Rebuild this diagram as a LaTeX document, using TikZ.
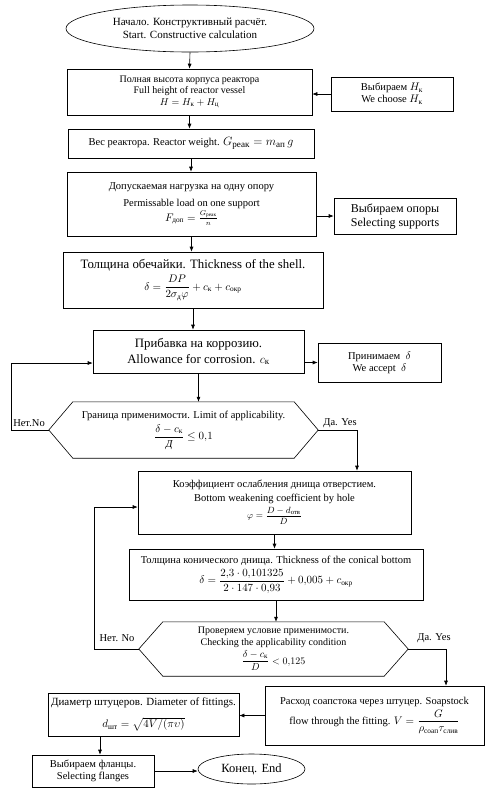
\documentclass[tikz,border=0pt]{standalone}
\usepackage{amsmath}
\usepackage{fontspec}
\setmainfont{Liberation Serif}
\usetikzlibrary{arrows.meta,shapes.geometric}
\newcommand{\tx}[1]{\text{#1}}
\begin{document}
\begin{tikzpicture}[x=1pt,y=-1pt,
  box/.style={draw, line width=0.6pt, inner sep=1pt, align=center},
  oval/.style={draw, ellipse, line width=0.6pt, inner sep=0pt, align=center},
  arr/.style={line width=0.6pt, -{Latex[length=5pt,width=4pt]}},
  ln/.style={line width=0.6pt},
  fs/.style={font=\fontsize{10.5}{12}\selectfont},
  fsm/.style={font=\fontsize{10}{11.5}\selectfont},
  fm/.style={font=\fontsize{11}{13}\selectfont},
  fl/.style={font=\fontsize{12.8}{15}\selectfont},
  lbl/.style={font=\fontsize{10.5}{12}\selectfont, inner sep=0pt}]
\useasboundingbox (0,0) rectangle (487,793);

\node[oval, fm, minimum width=248pt, minimum height=47pt] (start) at (190,28.5)
  {Начало. Конструктивный расчёт.\\Start. Constructive calculation};

\node[box, fsm, minimum width=245pt, minimum height=46pt] (b1) at (189.5,92)
  {Полная высота корпуса реактора\\Full height of reactor vessel\\$H = H_{\tx{к}} + H_{\tx{ц}}$};

\node[box, fs, minimum width=122pt, minimum height=34pt] (hk) at (392,94)
  {Выбираем $H_{\tx{к}}$\\We choose $H_{\tx{к}}$};

\node[box, fs, minimum width=246pt, minimum height=29pt] (b2) at (191,143.5)
  {Вес реактора. Reactor weight. {\fontsize{13}{15}\selectfont$G_{\tx{реак}} = m_{\tx{ап}}\,g$}};

\node[box, fs, minimum width=249pt, minimum height=64pt] (b3) at (191.5,204)
  {Допускаемая нагрузка на одну опору\\[5pt]Permissable load on one support\\[1pt]$F_{\tx{доп}} = \frac{G_{\tx{реак}}}{n}$};

\node[box, font=\fontsize{12}{14}\selectfont, minimum width=122pt, minimum height=36pt] (sup) at (395,216)
  {Выбираем опоры\\Selecting supports};

\node[box, fl, minimum width=260pt, minimum height=56pt] (b4) at (193,280)
  {Толщина обечайки. Thickness of the shell.\\[3pt]{\fontsize{10.5}{12}\selectfont$\delta = \dfrac{DP}{2\sigma_{\tx{д}}\varphi} + c_{\tx{к}} + c_{\tx{окр}}$}};

\node[box, fl, minimum width=211pt, minimum height=43pt] (b5) at (198.5,351.5)
  {Прибавка на коррозию.\\[1pt]Allowance for corrosion. $c_{\tx{к}}$};

\node[box, fs, minimum width=123pt, minimum height=39pt] (acc) at (379.5,362.5)
  {Принимаем \ $\delta$\\We accept \ $\delta$};

% hexagon 1
\node[fs, align=center, minimum width=269pt, minimum height=56pt, inner sep=0pt] (h1) at (183.5,430)
  {Граница применимости. Limit of applicability.\\[3pt]$\dfrac{\delta - c_{\tx{к}}}{\tx{\itshape Д}} \le 0{,}1$};
\draw[ln] ([xshift=24pt]h1.north west) -- ([xshift=-24pt]h1.north east) -- (h1.east)
  -- ([xshift=-24pt]h1.south east) -- ([xshift=24pt]h1.south west) -- (h1.west) -- cycle;

\node[box, fs, minimum width=273pt, minimum height=63pt] (b6) at (274.5,502.5)
  {Коэффициент ослабления днища отверстием.\\[2pt]Bottom weakening coefficient by hole\\[2pt]{\fontsize{9.5}{11}\selectfont$\varphi = \dfrac{D - d_{\tx{отв}}}{D}$}};

\node[box, fs, minimum width=294pt, minimum height=51pt] (b7) at (276,574.5)
  {Толщина конического днища. Thickness of the conical bottom\\[3pt]$\delta = \dfrac{2{,}3\cdot 0{,}101325}{2\cdot 147\cdot 0{,}93} + 0{,}005 + c_{\tx{окр}}$};

% hexagon 2
\node[fsm, align=center, minimum width=269pt, minimum height=54pt, inner sep=0pt] (h2) at (273.5,649)
  {Проверяем условие применимости.\\Checking the applicability condition\\[2pt]$\dfrac{\delta - c_{\tx{к}}}{D} < 0{,}125$};
\draw[ln] ([xshift=24pt]h2.north west) -- ([xshift=-24pt]h2.north east) -- (h2.east)
  -- ([xshift=-24pt]h2.south east) -- ([xshift=24pt]h2.south west) -- (h2.west) -- cycle;

\node[box, fs, minimum width=219pt, minimum height=59pt] (b8) at (374.5,715.5)
  {Расход соапстока через штуцер. Soapstock\\[2pt]flow through the fitting. $V = \dfrac{G}{\rho_{\tx{соап}}\tau_{\tx{слив}}}$};

\node[box, font=\fontsize{11}{13}\selectfont, minimum width=191pt, minimum height=43pt] (b9) at (143.5,714.5)
  {Диаметр штуцеров. Diameter of fittings.\\[9pt]$d_{\tx{шт}} = \sqrt{4V/(\pi\upsilon)}$};

\node[box, fs, minimum width=122pt, minimum height=32pt] (b10) at (93,771)
  {Выбираем фланцы.\\Selecting flanges};

\node[oval, font=\fontsize{12.5}{14}\selectfont, minimum width=107pt, minimum height=30pt] (end) at (251.5,769)
  {Конец. End};

% labels
\node[lbl] (no1) at (29,423) {Нет.No};
\node[lbl] (yes1) at (340,423) {Да. Yes};
\node[lbl] (no2) at (117,638) {Нет. No};
\node[lbl] (yes2) at (434,638) {Да. Yes};

% connectors
\draw[arr] (start.south) -- (b1.north);
\draw[arr] (hk.west) -- (hk.west -| b1.east);
\draw[arr] (b1.south) -- (b1.south |- b2.north);
\draw[arr] (b2.south) -- (b2.south |- b3.north);
\draw[arr] (sup.west -| b3.east) -- (sup.west);
\draw[arr] (b3.south) -- (b3.south |- b4.north);
\draw[arr] (b4.south) -- (b4.south |- b5.north);
\draw[arr] (acc.west -| b5.east) -- (acc.west);
\draw[arr] (b5.south) -- (b5.south |- h1.north);

\coordinate (n1) at (11,430);
\coordinate (n1t) at (11,363);
\draw[arr] (h1.west) -- (n1) -- (n1t) -- (n1t -| b5.west);

\coordinate (y1) at (357,430);
\draw[arr] (h1.east) -- (y1) -- (y1 |- b6.north);

\draw[arr] (b6.south) -- (b6.south |- b7.north);
\draw[arr] (b7.south) -- (b7.south |- h2.north);

\coordinate (n2) at (94,649);
\coordinate (n2t) at (94,507);
\draw[arr] (h2.west) -- (n2) -- (n2t) -- (n2t -| b6.west);

\coordinate (y2) at (446,649);
\draw[arr] (h2.east) -- (y2) -- (y2 |- b8.north);

\draw[arr] (b8.west) -- (b8.west -| b9.east);
\coordinate (d9) at (100,736);
\draw[arr] (b9.south -| d9) -- (d9 |- b10.north);
\draw[arr] (b10.east) -- (b10.east -| end.west);
\end{tikzpicture}
\end{document}
